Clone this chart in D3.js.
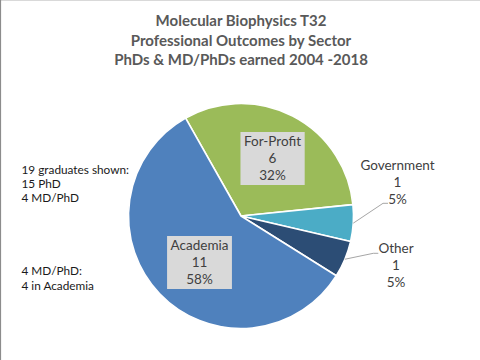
<!DOCTYPE html>
<html>
<head>
<meta charset="utf-8">
<script src="https://cdn.jsdelivr.net/npm/d3@7"></script>
<style>
  html, body { margin: 0; padding: 0; background: #fff; }
  svg { display: block; }
  text { font-family: Lato, "Liberation Sans", sans-serif; }
</style>
</head>
<body>
<svg id="chart" width="480" height="360"></svg>
<script>
// ---- data ----
const categories = ["For-Profit", "Government", "Other", "Academia"];
const counts = [6, 1, 1, 11];
const percentLabels = ["32%", "5%", "5%", "58%"];
const titleLines = [
  "Molecular Biophysics T32",
  "Professional Outcomes by Sector",
  "PhDs & MD/PhDs earned 2004 -2018"
];
const noteTop = ["19 graduates shown:", "15 PhD", "4 MD/PhD"];
const noteBottom = ["4 MD/PhD:", "4 in Academia"];

// ---- styles ----
const colors = d3.scaleOrdinal()
  .domain(categories)
  .range(["#9BBB59", "#4BACC6", "#2C4D75", "#4F81BD"]);

const W = 480, H = 360;
const cx = 241, cy = 216, R = 112.5;
const startDeg = -29.5;

const svg = d3.select("#chart");

// frame
svg.append("line").attr("x1", 0).attr("x2", W).attr("y1", 0.5).attr("y2", 0.5)
  .attr("stroke", "#d9d9d9").attr("stroke-width", 1);
svg.append("line").attr("x1", 0.5).attr("x2", 0.5).attr("y1", 0).attr("y2", H)
  .attr("stroke", "#8c8c8c").attr("stroke-width", 1.2);

// title
const title = svg.append("text")
  .attr("text-anchor", "middle")
  .attr("fill", "#595959")
  .attr("font-weight", "bold")
  .attr("font-size", 15);
titleLines.forEach((t, i) => {
  title.append("tspan").attr("x", cx).attr("y", 26 + i * 19.5).text(t);
});

// pie
const toRad = d => d * Math.PI / 180;
const pie = d3.pie().sort(null).value(d => d.value)
  .startAngle(toRad(startDeg)).endAngle(toRad(startDeg + 360));
const data = categories.map((c, i) => ({ name: c, value: counts[i], pct: percentLabels[i] }));
const arcs = pie(data);
const arc = d3.arc().innerRadius(0).outerRadius(R);

const g = svg.append("g").attr("transform", `translate(${cx},${cy})`);
g.selectAll("path.slice").data(arcs).join("path")
  .attr("class", "slice")
  .attr("d", arc)
  .attr("fill", d => colors(d.data.name))
  .attr("stroke", "#fff")
  .attr("stroke-width", 1.6)
  .attr("stroke-linejoin", "round");

// label layout (relative to pie centre)
const labelLayout = {
  "For-Profit": { x: 31.5, y: -70, box: true },
  "Academia": { x: -41.5, y: 34, box: true },
  "Government": { x: 156.5, y: -46, box: false, lead: [142, -12.7, 147, -12.7] },
  "Other": { x: 155, y: 37.3, box: false, lead: [132.3, 37.3, 137.3, 37.3] }
};
const lineGap = 17;
const labelFont = 13.5;

arcs.forEach(a => {
  const L = labelLayout[a.data.name];
  const lines = [a.data.name, String(a.data.value), a.data.pct];
  const lg = g.append("g");
  if (L.lead) {
    const mid = (a.startAngle + a.endAngle) / 2;
    const p0 = [Math.sin(mid) * R, -Math.cos(mid) * R];
    lg.append("polyline")
      .attr("points", [p0, [L.lead[0], L.lead[1]], [L.lead[2], L.lead[3]]].map(p => p.join(",")).join(" "))
      .attr("fill", "none").attr("stroke", "#a6a6a6").attr("stroke-width", 1);
  }
  const txt = lg.append("text")
    .attr("text-anchor", "middle")
    .attr("fill", "#404040")
    .attr("font-size", labelFont);
  lines.forEach((t, i) => {
    txt.append("tspan").attr("x", L.x).attr("y", L.y + i * lineGap).text(t);
  });
  if (L.box) {
    const bb = txt.node().getBBox();
    lg.insert("rect", "text")
      .attr("x", bb.x - 3.5).attr("y", bb.y - 1)
      .attr("width", bb.width + 7).attr("height", bb.height + 3)
      .attr("fill", "#D9D9D9");
  }
});

// side notes
const note1 = svg.append("text").attr("fill", "#1a1a1a").attr("font-size", 11.8);
noteTop.forEach((t, i) => note1.append("tspan").attr("x", 21.5).attr("y", 174 + i * 13.8).text(t));
const note2 = svg.append("text").attr("fill", "#1a1a1a").attr("font-size", 11.8);
noteBottom.forEach((t, i) => note2.append("tspan").attr("x", 21.5).attr("y", 275 + i * 15).text(t));
</script>
</body>
</html>
